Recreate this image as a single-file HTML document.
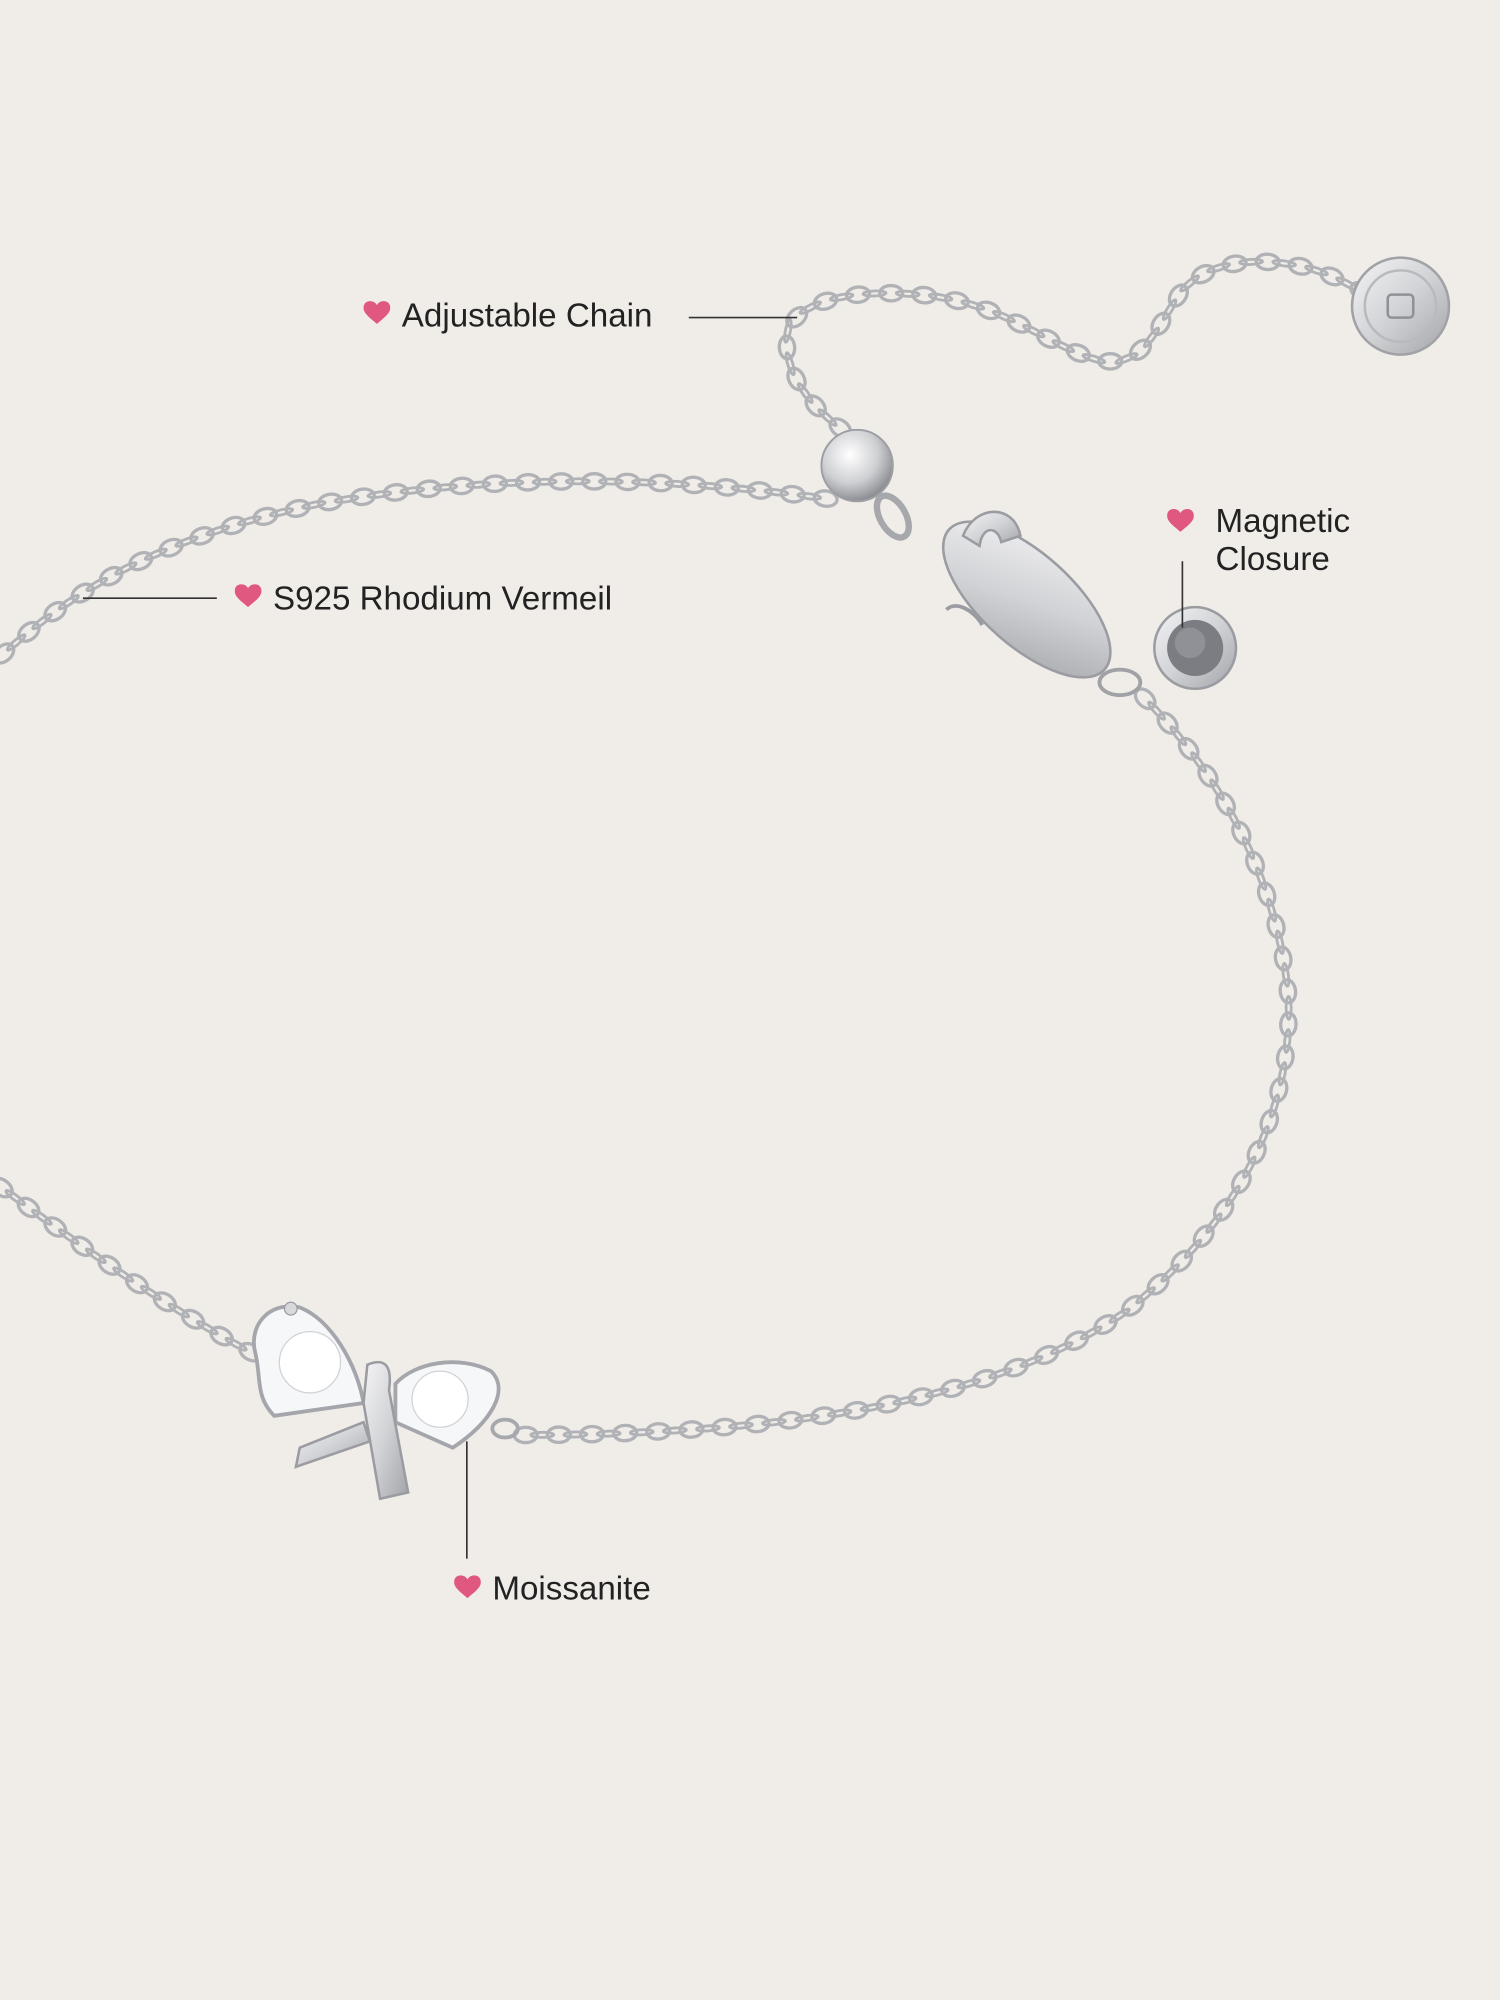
<!DOCTYPE html>
<html><head><meta charset="utf-8">
<style>
html,body{margin:0;padding:0;background:#f0ede9;}
svg{display:block;}
.lbl{font-family:"Liberation Sans",sans-serif;font-size:26px;fill:#222;}
</style></head><body>
<svg id="s" width="1500" height="2000" viewBox="0 0 1176 1568" xmlns="http://www.w3.org/2000/svg">
<defs>
<radialGradient id="ball" cx="40%" cy="35%" r="65%"><stop offset="0" stop-color="#ffffff"/><stop offset="0.6" stop-color="#cfd0d3"/><stop offset="1" stop-color="#8d8f94"/></radialGradient>
<linearGradient id="met" x1="0" y1="0" x2="1" y2="1"><stop offset="0" stop-color="#f4f4f6"/><stop offset="0.5" stop-color="#d2d3d6"/><stop offset="1" stop-color="#a2a4a9"/></linearGradient>
<symbol id="heart" viewBox="0 0 20 18"><path d="M10 17 C4 12 0 9 0 5 C0 2 2 0 5 0 C7 0 9 1 10 3 C11 1 13 0 15 0 C18 0 20 2 20 5 C20 9 16 12 10 17Z" fill="#e0577f"/></symbol>
</defs>
<rect width="1176" height="1568" fill="#f0ede9"/>
<g id="chains" fill="none" stroke="#b0b2b6"></g>
<path id="p1" d="M0 515 C60 460 130 420 250 395 C380 372 520 372 655 392" fill="none" stroke="none"/>
<path id="p2" d="M895 545 C950 600 1000 680 1010 780 C1015 880 960 970 880 1030 C790 1090 660 1115 520 1122 C470 1125 430 1125 400 1125" fill="none" stroke="none"/>
<path id="p3" d="M200 1062 C140 1030 80 990 0 930" fill="none" stroke="none"/>
<path id="p4" d="M662 338 C630 315 612 285 618 258 C630 232 680 226 730 232 C790 240 820 270 860 282 C895 290 905 260 925 230 C945 205 985 200 1025 210 C1045 215 1060 225 1075 232" fill="none" stroke="none"/>
<!-- tag -->
<circle cx="1098" cy="240" r="38" fill="url(#met)" stroke="#a0a2a6" stroke-width="2"/>
<circle cx="1098" cy="240" r="28" fill="none" stroke="#b8babe" stroke-width="2"/>
<rect x="1088" y="231" width="20" height="18" rx="3" fill="none" stroke="#8f9196" stroke-width="2"/>
<!-- ball -->
<circle cx="672" cy="365" r="28" fill="url(#ball)" stroke="#9c9ea3" stroke-width="1.5"/>
<ellipse cx="700" cy="405" rx="10" ry="18" fill="none" stroke="#a6a8ac" stroke-width="5" transform="rotate(-30 700 405)"/>
<!-- clasp -->
<ellipse cx="805" cy="470" rx="82" ry="36" transform="rotate(42 805 470)" fill="url(#met)" stroke="#9a9ca1" stroke-width="2"/>
<path d="M755 420 C765 395 795 395 800 420 L785 425 C782 412 770 412 768 428Z" fill="url(#met)" stroke="#9a9ca1" stroke-width="2"/>
<path d="M742 478 C750 470 765 480 770 490" fill="none" stroke="#9a9ca1" stroke-width="3"/>
<ellipse cx="878" cy="535" rx="16" ry="10" fill="none" stroke="#a0a2a6" stroke-width="3"/>
<!-- magnetic disc -->
<circle cx="937" cy="508" r="32" fill="url(#met)" stroke="#9a9ca1" stroke-width="2"/>
<circle cx="937" cy="508" r="22" fill="#7b7d82"/>
<circle cx="933" cy="504" r="12" fill="#a3a5aa" opacity="0.5"/>
<!-- bow -->
<path d="M285 1100 C280 1070 260 1035 235 1025 C210 1020 195 1040 200 1060 C205 1080 200 1095 215 1110Z" fill="#f6f7f9" stroke="#a4a6ab" stroke-width="3"/>
<path d="M310 1085 C325 1068 360 1062 385 1075 C400 1090 385 1115 355 1135 L310 1115Z" fill="#f6f7f9" stroke="#a4a6ab" stroke-width="3"/>
<circle cx="243" cy="1068" r="24" fill="#ffffff" stroke="#d0d2d6"/>
<circle cx="345" cy="1097" r="22" fill="#ffffff" stroke="#d0d2d6"/>
<circle cx="228" cy="1026" r="5" fill="#d8d9dc" stroke="#9a9ca1"/>
<path d="M288 1070 C300 1065 308 1068 305 1090 L320 1170 L298 1175 L285 1100Z" fill="url(#met)" stroke="#9a9ca1" stroke-width="2"/>
<path d="M285 1115 L235 1135 L232 1150 L290 1130Z" fill="url(#met)" stroke="#9a9ca1" stroke-width="2"/>
<ellipse cx="396" cy="1120" rx="10" ry="7" fill="none" stroke="#a6a8ac" stroke-width="3"/>
<!-- labels -->
<line x1="540" y1="249" x2="625" y2="249" stroke="#333" stroke-width="1.3"/>
<use href="#heart" x="285" y="236" width="21" height="19"/>
<text class="lbl" x="315" y="256">Adjustable Chain</text>
<line x1="65" y1="469" x2="170" y2="469" stroke="#333" stroke-width="1.3"/>
<use href="#heart" x="184" y="458" width="21" height="19"/>
<text class="lbl" x="214" y="478">S925 Rhodium Vermeil</text>
<use href="#heart" x="915" y="399" width="21" height="19"/>
<text class="lbl" x="953" y="417">Magnetic</text>
<text class="lbl" x="953" y="447">Closure</text>
<line x1="927" y1="440" x2="927" y2="492" stroke="#333" stroke-width="1.3"/>
<line x1="366" y1="1130" x2="366" y2="1222" stroke="#333" stroke-width="1.3"/>
<use href="#heart" x="356" y="1235" width="21" height="19"/>
<text class="lbl" x="386" y="1254">Moissanite</text>
</svg>
<script>
var NS="http://www.w3.org/2000/svg",g=document.getElementById("chains");
["p1","p2","p3","p4"].forEach(function(id){
 var p=document.getElementById(id),L=p.getTotalLength(),step=13,i=0;
 for(var d=4;d<L;d+=step,i++){
  var a=p.getPointAtLength(d),b=p.getPointAtLength(Math.min(L,d+1));
  var ang=Math.atan2(b.y-a.y,b.x-a.x)*180/Math.PI;
  var e=document.createElementNS(NS,"ellipse");
  e.setAttribute("cx",a.x);e.setAttribute("cy",a.y);
  if(i%2==0){e.setAttribute("rx",9);e.setAttribute("ry",6);e.setAttribute("stroke-width",2.6);}
  else{e.setAttribute("rx",9);e.setAttribute("ry",2);e.setAttribute("stroke-width",2.2);}
  e.setAttribute("transform","rotate("+ang+" "+a.x+" "+a.y+")");
  g.appendChild(e);
 }
});
</script>
</body></html>
